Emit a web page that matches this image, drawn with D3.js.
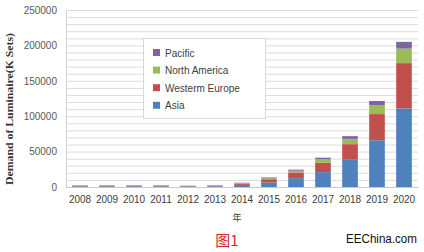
<!DOCTYPE html>
<html>
<head>
<meta charset="utf-8">
<script src="https://cdn.jsdelivr.net/npm/d3@7"></script>
<style>
	body { margin: 0; background: #fff; }
	svg { display: block; }
</style>
</head>
<body>
<div id="chart"></div>
<script>

// chart data
var years = ["2008","2009","2010","2011","2012","2013","2014","2015","2016","2017","2018","2019","2020"];
var asia = [1000, 1000, 1000, 1000, 800, 1000, 3000, 6500, 12500, 21000, 38500, 66000, 111000];
var westerm_europe = [800, 800, 800, 800, 600, 800, 1800, 4500, 8000, 13300, 22000, 37000, 64000];
var north_america = [400, 400, 400, 400, 300, 400, 700, 1500, 2500, 5100, 7500, 12800, 20500];
var pacific = [400, 400, 400, 400, 300, 400, 500, 1000, 1500, 2000, 3800, 5700, 9500];
var series_names = ["Asia", "Westerm Europe", "North America", "Pacific"];
var series_colors = ["#4f81bd", "#c0504d", "#9bbb59", "#8064a2"];
var y_ticks = [0, 50000, 100000, 150000, 200000, 250000];

var W = 424, H = 252;

function draw_chart(){
	var svg = d3.select("#chart").append("svg")
		.attr("width", W).attr("height", H)
		.style("font-family", "'Liberation Sans', Arial, sans-serif");

	var x = d3.scaleBand().domain(years).range([66.5, 417.5]).paddingInner(0.42).paddingOuter(0.21);
	var y = d3.scaleLinear().domain([0, 250000]).range([187, 10]);

	// minor + major gridlines
	var grid = svg.append("g")
		.attr("transform", "translate(66,0)")
		.call(d3.axisLeft(y).tickValues(d3.range(10000, 250001, 10000)).tickSize(-352).tickFormat(""));
	grid.select(".domain").remove();
	grid.selectAll("line").attr("stroke", "#dcdcdc").attr("stroke-width", 1);

	// y tick labels
	var ya = svg.append("g")
		.attr("transform", "translate(66,0)")
		.call(d3.axisLeft(y).tickValues(y_ticks).tickSize(0).tickPadding(9).tickFormat(d3.format("d")));
	ya.select(".domain").attr("stroke", "#d0d0d0");
	ya.selectAll("text").attr("fill", "#595959").style("font-size", "10px")
		.style("font-family", "'Liberation Sans', Arial, sans-serif");

	// stacked bars
	var rows = years.map(function(yr, i){
		return {year: yr, "Asia": asia[i], "Westerm Europe": westerm_europe[i],
			"North America": north_america[i], "Pacific": pacific[i]};
	});
	var stack = d3.stack().keys(series_names)(rows);
	svg.append("g").selectAll("g")
		.data(stack).enter().append("g")
		.attr("fill", function(d, i){ return series_colors[i]; })
		.selectAll("rect")
		.data(function(d){ return d; })
		.enter().append("rect")
		.attr("x", function(d){ return x(d.data.year); })
		.attr("width", x.bandwidth())
		.attr("y", function(d){ return y(d[1]); })
		.attr("height", function(d){ return y(d[0]) - y(d[1]); });

	// x axis
	var xa = svg.append("g")
		.attr("transform", "translate(0,187)")
		.call(d3.axisBottom(x).tickSize(0).tickPadding(9));
	xa.select(".domain").attr("stroke", "#c8c8c8").attr("d", "M66,0.5H418");
	xa.selectAll("text").attr("fill", "#404040").style("font-size", "10px")
		.style("font-family", "'Liberation Sans', Arial, sans-serif");

	// axis titles
	svg.append("text")
		.attr("transform", "translate(13,109) rotate(-90)")
		.attr("text-anchor", "middle")
		.attr("textLength", 152).attr("lengthAdjust", "spacingAndGlyphs")
		.style("font-family", "'Liberation Serif', 'Times New Roman', serif")
		.style("font-size", "11px").style("font-weight", "bold")
		.attr("fill", "#333")
		.text("Demand of Luminaire(K Sets)");
	svg.append("text")
		.attr("x", 237).attr("y", 221)
		.attr("text-anchor", "middle")
		.style("font-family", "'Noto Sans CJK SC', sans-serif")
		.style("font-size", "9px").attr("fill", "#404040")
		.text("年");

	// legend
	var lg = svg.append("g");
	lg.append("rect").attr("x", 143.5).attr("y", 38.5).attr("width", 122).attr("height", 80)
		.attr("fill", "#fff").attr("stroke", "#d9d9d9");
	var order = [3, 2, 1, 0];
	order.forEach(function(k, i){
		var cy = 53 + i * 17.6;
		lg.append("rect").attr("x", 153).attr("y", cy - 4).attr("width", 7).attr("height", 7)
			.attr("fill", series_colors[k]);
		lg.append("text").attr("x", 165).attr("y", cy + 3.5)
			.style("font-size", "10px").attr("fill", "#404040")
			.text(series_names[k]);
	});

	// caption + watermark
	svg.append("text")
		.attr("x", 227).attr("y", 246)
		.attr("text-anchor", "middle")
		.style("font-family", "'Noto Sans CJK SC', sans-serif")
		.style("font-size", "15px").attr("fill", "#d02828")
		.text("图1");
	svg.append("text")
		.attr("x", 346).attr("y", 243)
		.attr("textLength", 71).attr("lengthAdjust", "spacingAndGlyphs")
		.style("font-size", "13px").attr("fill", "#111")
		.text("EEChina.com");
}

window.onload = draw_chart;
</script>
</body>
</html>
